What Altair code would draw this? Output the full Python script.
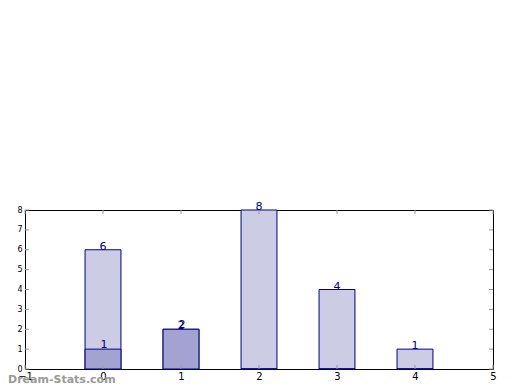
import altair as alt
import pandas as pd

categories = [0, 1, 2, 3, 4]
series_light = [6, 2, 8, 4, 1]
series_dark = [1, 2, 0, 0, 0]
x_ticks = [-1, 0, 1, 2, 3, 4, 5]
y_ticks = [0, 1, 2, 3, 4, 5, 6, 7, 8]

W, H = 468, 159
HALF = 0.23

light = pd.DataFrame({"x": categories, "v": series_light})
dark = pd.DataFrame({"x": categories, "v": series_dark})
xt = pd.DataFrame({"t": x_ticks})
yt = pd.DataFrame({"t": y_ticks})

xscale = alt.Scale(domain=[-1, 5], nice=False, zero=False)
yscale = alt.Scale(domain=[0, 8], nice=False)

xaxis = alt.Axis(values=x_ticks, format="d", tickSize=0, domain=False, grid=False,
                 labelFontSize=10, labelColor="#000000", labelPadding=2,
                 labelFlush=False, labelOverlap=False, labelBound=False,
                 labelFont="DejaVu Sans", title=None)
yaxis = alt.Axis(values=y_ticks, format="d", tickSize=0, domain=False, grid=False,
                 labelFontSize=8, labelColor="#000000", labelPadding=3,
                 labelFlush=False, labelOverlap=False, labelBound=False,
                 labelFont="DejaVu Sans", title=None)

def X(field):
    return alt.X(field, scale=xscale, axis=xaxis)

def Y(field):
    return alt.Y(field, scale=yscale, axis=yaxis)

def bars(df, color):
    return alt.Chart(df).transform_calculate(
        x0=f"datum.x - {HALF}", x1=f"datum.x + {HALF}"
    ).mark_bar(fill=color, stroke="#000080", strokeWidth=1).encode(
        x=X("x0:Q"),
        x2="x1:Q",
        y=Y("v:Q"),
        y2=alt.datum(0),
    )

def labels(df, dx=0, dy=2):
    return alt.Chart(df).transform_filter("datum.v > 0").mark_text(
        baseline="bottom", fontSize=11, color="#00008B", dy=dy, dx=dx,
        font="DejaVu Sans",
    ).encode(
        x=X("x:Q"),
        y=Y("v:Q"),
        text=alt.Text("v:Q", format="d"),
    )

tick_col = "#999999"
xt_bottom = alt.Chart(xt).mark_rule(color=tick_col, strokeWidth=1).encode(
    x=X("t:Q"), y=alt.value(H), y2=alt.value(H - 4))
xt_top = alt.Chart(xt).mark_rule(color=tick_col, strokeWidth=1).encode(
    x=X("t:Q"), y=alt.value(0), y2=alt.value(4))
yt_left = alt.Chart(yt).mark_rule(color=tick_col, strokeWidth=1).encode(
    y=Y("t:Q"), x=alt.value(0), x2=alt.value(4))
yt_right = alt.Chart(yt).mark_rule(color=tick_col, strokeWidth=1).encode(
    y=Y("t:Q"), x=alt.value(W), x2=alt.value(W - 4))

watermark = alt.Chart(pd.DataFrame({"s": ["Dream-Stats.com"]})).mark_text(
    text="Dream-Stats.com", fontSize=11, fontWeight="bold", color="#999999",
    align="left", baseline="middle", font="DejaVu Sans",
).encode(x=alt.value(-17), y=alt.value(H + 11))

chart = alt.layer(
    bars(light, "#CCCCE5"), bars(dark, "#A3A3D1"),
    xt_bottom, xt_top, yt_left, yt_right,
    labels(light), labels(dark, dx=1, dy=1),
    watermark,
).properties(
    width=W, height=H,
    autosize=alt.AutoSizeParams(type="none"),
    padding={"left": 17, "top": 202, "right": 19, "bottom": 21},
).configure(background="#FFFFFF").configure_view(stroke="#000000", strokeWidth=1)

chart.save("out.html", embed_options={"renderer": "svg", "actions": False})
